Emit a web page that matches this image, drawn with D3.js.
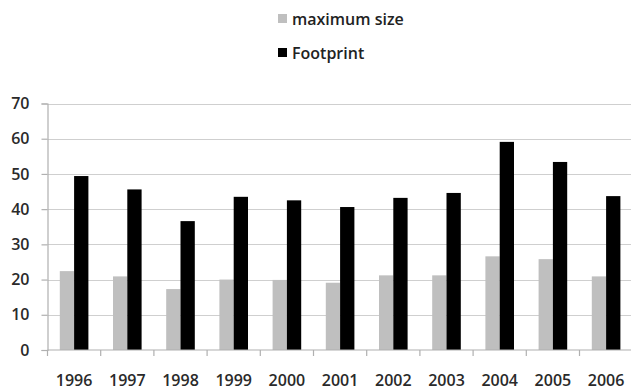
<!DOCTYPE html>
<html>
<head>
<meta charset="utf-8">
<script src="https://cdn.jsdelivr.net/npm/d3@7"></script>
<style>
  html, body { margin: 0; padding: 0; background: #fff; }
  svg { display: block; }
  text { font-family: "Open Sans", "DejaVu Sans", sans-serif; font-weight: 600; }
</style>
</head>
<body>
<svg id="chart" width="631" height="390"></svg>
<script>
// Yearly values per series
const years = ["1996", "1997", "1998", "1999", "2000", "2001", "2002", "2003", "2004", "2005", "2006"];
const maximumSize = [22.4, 20.9, 17.3, 20.0, 19.9, 19.1, 21.2, 21.2, 26.6, 25.8, 20.9];
const footprint   = [49.4, 45.6, 36.6, 43.5, 42.5, 40.6, 43.2, 44.6, 59.1, 53.4, 43.7];
const seriesNames = ["maximum size", "Footprint"];
const seriesColors = ["#bfbfbf", "#000000"];
const yTicks = [0, 10, 20, 30, 40, 50, 60, 70];

const svg = d3.select("#chart");

const plot = { left: 47.5, top: 103.5, bottom: 350, bandW: 53.2 };
plot.right = plot.left + plot.bandW * years.length;

const x = d3.scaleBand().domain(years).range([plot.left, plot.right]).padding(0);
const inner = d3.scaleBand().domain(seriesNames)
  .range([12.3, plot.bandW - 12.3]).padding(0);
const y = d3.scaleLinear().domain([0, 70]).range([plot.bottom, plot.top]);

// Horizontal gridlines
svg.append("g")
  .selectAll("line")
  .data(yTicks.filter(d => d > 0))
  .join("line")
  .attr("x1", plot.left).attr("x2", plot.right)
  .attr("y1", d => Math.round(y(d)) + 0.5).attr("y2", d => Math.round(y(d)) + 0.5)
  .attr("stroke", "#cfcfcf").attr("stroke-width", 1.2);

// Bars
const rows = years.map((yr, i) => ({ year: yr, values: [maximumSize[i], footprint[i]] }));
const groups = svg.append("g").selectAll("g")
  .data(rows).join("g")
  .attr("transform", d => `translate(${x(d.year)},0)`);
groups.selectAll("rect")
  .data(d => d.values.map((v, k) => ({ key: seriesNames[k], value: v, color: seriesColors[k] })))
  .join("rect")
  .attr("x", d => inner(d.key))
  .attr("width", inner.bandwidth())
  .attr("y", d => y(d.value))
  .attr("height", d => y(0) - y(d.value))
  .attr("fill", d => d.color);

// Y axis
const yAxis = d3.axisLeft(y).tickValues(yTicks).tickSize(6).tickPadding(12);
const gy = svg.append("g").attr("transform", `translate(${plot.left},0)`).call(yAxis);
gy.select(".domain").attr("stroke", "#b0b0b0").attr("stroke-width", 1.2);
gy.selectAll(".tick line").attr("stroke", "#b0b0b0").attr("stroke-width", 1.2);
gy.selectAll(".tick text")
  .attr("font-family", "'Open Sans', sans-serif")
  .attr("font-weight", 600)
  .attr("font-size", 16).attr("fill", "#2a2a2a");

// X axis with ticks at category boundaries
const gx = svg.append("g").attr("transform", `translate(0,${plot.bottom})`);
gx.append("line")
  .attr("x1", plot.left).attr("x2", plot.right)
  .attr("stroke", "#b0b0b0").attr("stroke-width", 1.2);
gx.selectAll("line.tk")
  .data(d3.range(years.length + 1))
  .join("line").attr("class", "tk")
  .attr("x1", i => plot.left + i * x.step()).attr("x2", i => plot.left + i * x.step())
  .attr("y1", 0).attr("y2", 6)
  .attr("stroke", "#b0b0b0").attr("stroke-width", 1.2);
gx.selectAll("text")
  .data(years).join("text")
  .attr("x", d => x(d) + x.bandwidth() / 2)
  .attr("y", 36)
  .attr("text-anchor", "middle")
  .attr("font-size", 16).attr("fill", "#2a2a2a")
  .text(d => d);

// Legend
const legend = svg.append("g");
const legendRows = [{ name: seriesNames[0], color: seriesColors[0], cy: 18.5 },
                    { name: seriesNames[1], color: seriesColors[1], cy: 52.5 }];
legend.selectAll("rect").data(legendRows).join("rect")
  .attr("x", 278).attr("y", d => d.cy - 4.5)
  .attr("width", 9).attr("height", 9)
  .attr("fill", d => d.color);
legend.selectAll("text").data(legendRows).join("text")
  .attr("x", 292).attr("y", d => d.cy + 6)
  .attr("font-size", 16).attr("fill", "#222")
  .text(d => d.name);
</script>
</body>
</html>
